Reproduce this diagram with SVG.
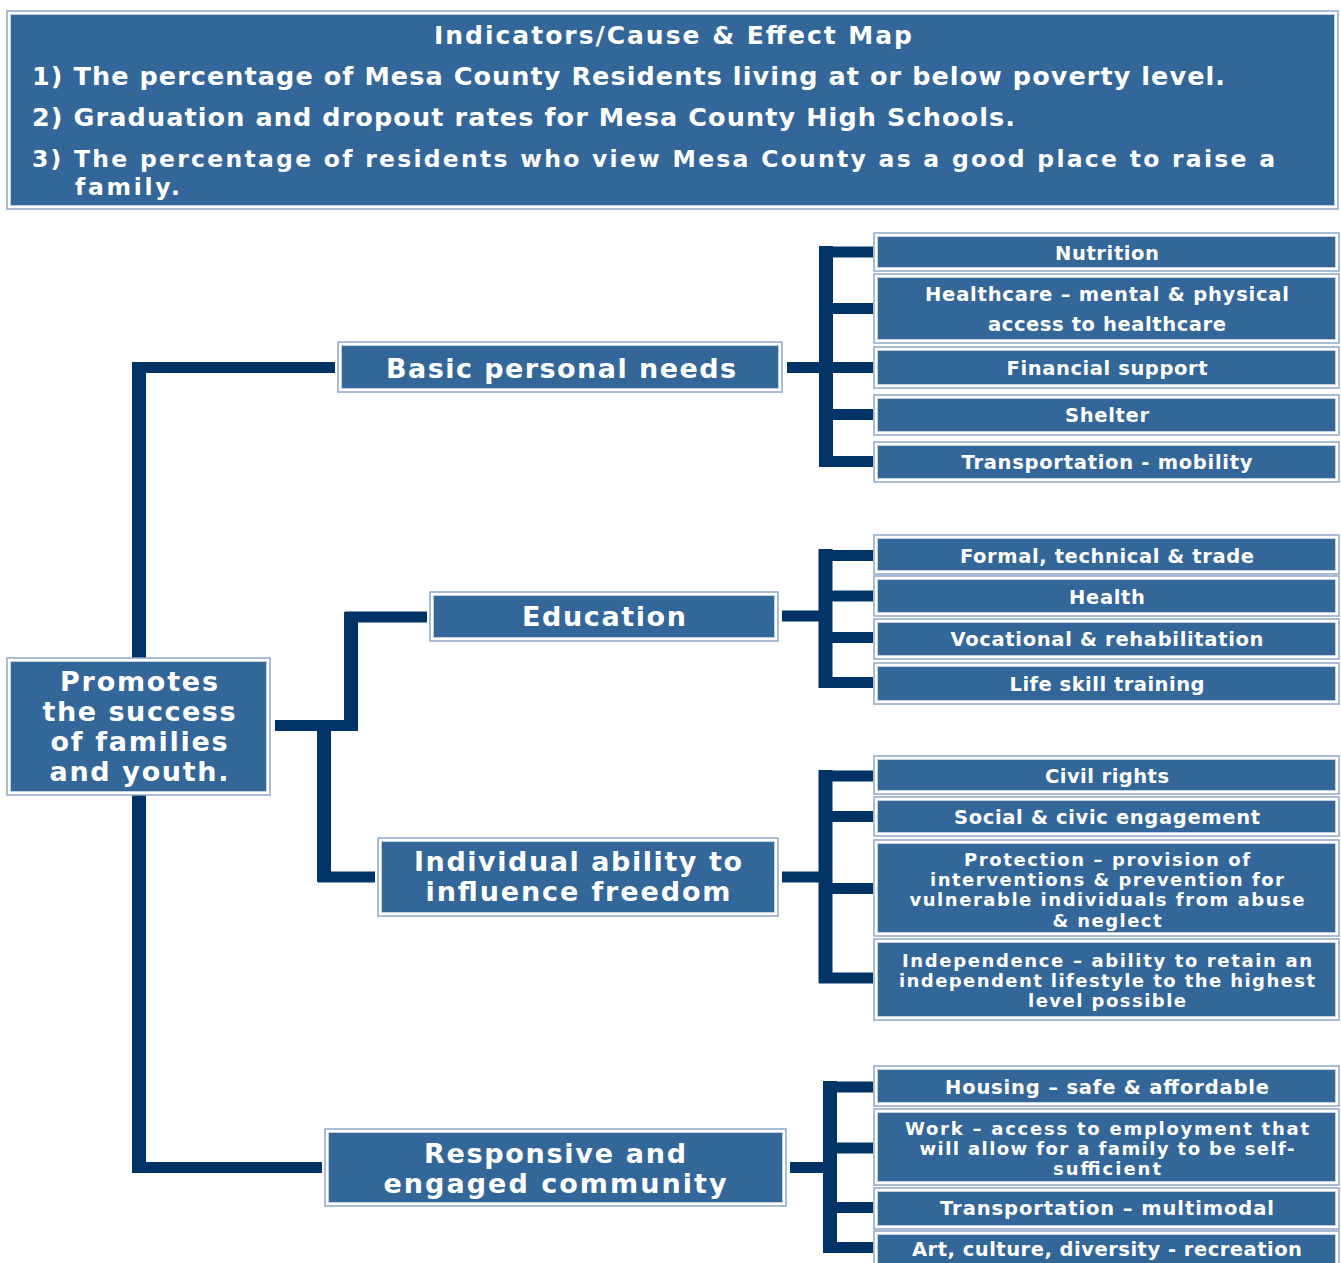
<svg xmlns="http://www.w3.org/2000/svg" width="1341" height="1263" viewBox="0 0 1341 1263">
  <style>
    .frame { fill: #ffffff; stroke: #8ea7c7; stroke-width: 1.5; }
    .fill { fill: #336699; stroke: #c3d0e1; stroke-width: 1; }
    .t { fill: #ffffff; font-family: "DejaVu Sans", Verdana, "Liberation Sans", sans-serif; font-weight: bold; text-anchor: middle; }
    .hd { font-size: 25px; }
    .hl { font-size: 25.5px; text-anchor: start; }
    .hl2 { font-size: 23.5px; text-anchor: start; }
    .big { font-size: 27px; }
    .sm { font-size: 19.5px; }
    .dense { font-size: 18px; }
    .h { stroke: #003366; stroke-width: 11; fill: none; stroke-linecap: butt; }
    .v { stroke: #003366; stroke-width: 14; fill: none; stroke-linecap: butt; }
  </style>
  <rect width="1341" height="1263" fill="#ffffff"/>

  <!-- connectors -->
  <g id="connectors">
    <!-- root to first level -->
    <path class="v" d="M139,658 V362"/>
    <path class="h" d="M132,367.5 H335"/>
    <path class="v" d="M139,795 V1173"/>
    <path class="h" d="M132,1167.5 H322"/>
    <path class="h" d="M275,725.5 H357"/>
    <path class="v" d="M351,731 V612"/>
    <path class="h" d="M345,617 H427"/>
    <path class="v" d="M324,720 V882"/>
    <path class="h" d="M318,877 H375"/>

    <!-- Basic personal needs -->
    <path class="h" d="M787,367.5 H826"/>
    <path class="v" d="M826,246 V467"/>
    <path class="h" d="M819,252 H873"/>
    <path class="h" d="M819,308.5 H873"/>
    <path class="h" d="M819,367.5 H873"/>
    <path class="h" d="M819,414.5 H873"/>
    <path class="h" d="M819,461.5 H873"/>

    <!-- Education -->
    <path class="h" d="M782,616 H826"/>
    <path class="v" d="M825.5,549 V688"/>
    <path class="h" d="M819,555.5 H873"/>
    <path class="h" d="M819,596 H873"/>
    <path class="h" d="M819,637.5 H873"/>
    <path class="h" d="M819,682.5 H873"/>

    <!-- Individual ability -->
    <path class="h" d="M782,877 H826"/>
    <path class="v" d="M825.5,770 V983"/>
    <path class="h" d="M819,776 H873"/>
    <path class="h" d="M819,816.5 H873"/>
    <path class="h" d="M819,888.5 H873"/>
    <path class="h" d="M819,978 H873"/>

    <!-- Responsive community -->
    <path class="h" d="M790,1167.5 H830"/>
    <path class="v" d="M830,1081 V1253"/>
    <path class="h" d="M823,1087 H873"/>
    <path class="h" d="M823,1148 H873"/>
    <path class="h" d="M823,1207.5 H873"/>
    <path class="h" d="M823,1247.5 H873"/>
  </g>

  <!-- header -->
  <g id="indicators">
    <rect class="frame" x="7" y="11" width="1331" height="198"/>
    <rect class="fill" x="10.5" y="14.5" width="1324" height="191"/>
    <text class="t hd" x="673" y="44" textLength="478">Indicators/Cause &amp; Effect Map</text>
    <text class="t hl" x="32" y="85" textLength="1193">1) The percentage of Mesa County Residents living at or below poverty level.</text>
    <text class="t hl" x="32" y="126" textLength="983">2) Graduation and dropout rates for Mesa County High Schools.</text>
    <text class="t hl2" x="32" y="167" textLength="1243">3) The percentage of residents who view Mesa County as a good place to raise a</text>
    <text class="t hl2" x="75" y="195" textLength="105">family.</text>
  </g>

  <!-- root -->
  <g id="root">
    <rect class="frame" x="7" y="658" width="263" height="137"/>
    <rect class="fill" x="10.5" y="661.5" width="256" height="130"/>
    <text class="t big" x="139" y="691" textLength="158">Promotes</text>
    <text class="t big" x="139" y="721" textLength="193">the success</text>
    <text class="t big" x="139" y="751" textLength="177">of families</text>
    <text class="t big" x="139" y="781" textLength="179">and youth.</text>
  </g>

  <!-- first level -->
  <g id="basic-needs">
    <rect class="frame" x="338" y="342" width="444" height="50"/>
    <rect class="fill" x="341.5" y="345.5" width="437" height="43"/>
    <text class="t big" x="561" y="378" textLength="350">Basic personal needs</text>
  </g>
  <g id="education">
    <rect class="frame" x="430" y="592" width="348" height="49"/>
    <rect class="fill" x="433.5" y="595.5" width="341" height="42"/>
    <text class="t big" x="604" y="626" textLength="164">Education</text>
  </g>
  <g id="individual-ability">
    <rect class="frame" x="378" y="838" width="400" height="78"/>
    <rect class="fill" x="381.5" y="841.5" width="393" height="71"/>
    <text class="t big" x="578" y="871" textLength="328">Individual ability to</text>
    <text class="t big" x="578" y="901" textLength="305">influence freedom</text>
  </g>
  <g id="responsive-community">
    <rect class="frame" x="325" y="1129" width="461" height="77"/>
    <rect class="fill" x="328.5" y="1132.5" width="454" height="70"/>
    <text class="t big" x="555" y="1163" textLength="262">Responsive and</text>
    <text class="t big" x="555" y="1193" textLength="343">engaged community</text>
  </g>

  <!-- Basic personal needs items -->
  <g id="nutrition">
    <rect class="frame" x="874" y="233" width="465" height="38"/>
    <rect class="fill" x="877.5" y="236.5" width="458" height="31"/>
    <text class="t sm" x="1107" y="260" textLength="104">Nutrition</text>
  </g>
  <g id="healthcare">
    <rect class="frame" x="874" y="274" width="465" height="69"/>
    <rect class="fill" x="877.5" y="277.5" width="458" height="62"/>
    <text class="t sm" x="1107" y="301" textLength="364">Healthcare – mental &amp; physical</text>
    <text class="t sm" x="1107" y="331" textLength="238">access to healthcare</text>
  </g>
  <g id="financial-support">
    <rect class="frame" x="874" y="347" width="465" height="41"/>
    <rect class="fill" x="877.5" y="350.5" width="458" height="34"/>
    <text class="t sm" x="1107" y="375" textLength="201">Financial support</text>
  </g>
  <g id="shelter">
    <rect class="frame" x="874" y="395" width="465" height="40"/>
    <rect class="fill" x="877.5" y="398.5" width="458" height="33"/>
    <text class="t sm" x="1107" y="422" textLength="84">Shelter</text>
  </g>
  <g id="transportation-mobility">
    <rect class="frame" x="874" y="442" width="465" height="40"/>
    <rect class="fill" x="877.5" y="445.5" width="458" height="33"/>
    <text class="t sm" x="1107" y="469" textLength="291">Transportation - mobility</text>
  </g>

  <!-- Education items -->
  <g id="formal-technical">
    <rect class="frame" x="874" y="535" width="465" height="39"/>
    <rect class="fill" x="877.5" y="538.5" width="458" height="32"/>
    <text class="t sm" x="1107" y="563" textLength="294">Formal, technical &amp; trade</text>
  </g>
  <g id="health">
    <rect class="frame" x="874" y="576" width="465" height="40"/>
    <rect class="fill" x="877.5" y="579.5" width="458" height="33"/>
    <text class="t sm" x="1107" y="604" textLength="76">Health</text>
  </g>
  <g id="vocational">
    <rect class="frame" x="874" y="619" width="465" height="40"/>
    <rect class="fill" x="877.5" y="622.5" width="458" height="33"/>
    <text class="t sm" x="1107" y="646" textLength="313">Vocational &amp; rehabilitation</text>
  </g>
  <g id="life-skill">
    <rect class="frame" x="874" y="663" width="465" height="41"/>
    <rect class="fill" x="877.5" y="666.5" width="458" height="34"/>
    <text class="t sm" x="1107" y="691" textLength="195">Life skill training</text>
  </g>

  <!-- Individual ability items -->
  <g id="civil-rights">
    <rect class="frame" x="874" y="756" width="465" height="38"/>
    <rect class="fill" x="877.5" y="759.5" width="458" height="31"/>
    <text class="t sm" x="1107" y="783" textLength="124">Civil rights</text>
  </g>
  <g id="social-civic">
    <rect class="frame" x="874" y="797" width="465" height="39"/>
    <rect class="fill" x="877.5" y="800.5" width="458" height="32"/>
    <text class="t sm" x="1107" y="824" textLength="306">Social &amp; civic engagement</text>
  </g>
  <g id="protection">
    <rect class="frame" x="874" y="840" width="465" height="96"/>
    <rect class="fill" x="877.5" y="843.5" width="458" height="89"/>
    <text class="t dense" x="1107" y="866" textLength="286">Protection – provision of</text>
    <text class="t dense" x="1107" y="886" textLength="354">interventions &amp; prevention for</text>
    <text class="t dense" x="1107" y="906" textLength="395">vulnerable individuals from abuse</text>
    <text class="t dense" x="1107" y="927" textLength="109">&amp; neglect</text>
  </g>
  <g id="independence">
    <rect class="frame" x="874" y="939" width="465" height="81"/>
    <rect class="fill" x="877.5" y="942.5" width="458" height="74"/>
    <text class="t dense" x="1107" y="967" textLength="410">Independence – ability to retain an</text>
    <text class="t dense" x="1107" y="987" textLength="416">independent lifestyle to the highest</text>
    <text class="t dense" x="1107" y="1007" textLength="158">level possible</text>
  </g>

  <!-- Responsive community items -->
  <g id="housing">
    <rect class="frame" x="874" y="1066" width="465" height="40"/>
    <rect class="fill" x="877.5" y="1069.5" width="458" height="33"/>
    <text class="t sm" x="1107" y="1094" textLength="324">Housing – safe &amp; affordable</text>
  </g>
  <g id="work">
    <rect class="frame" x="874" y="1109" width="465" height="76"/>
    <rect class="fill" x="877.5" y="1112.5" width="458" height="69"/>
    <text class="t dense" x="1107" y="1135" textLength="404">Work – access to employment that</text>
    <text class="t dense" x="1107" y="1155" textLength="375">will allow for a family to be self-</text>
    <text class="t dense" x="1107" y="1175" textLength="108">sufficient</text>
  </g>
  <g id="transportation-multimodal">
    <rect class="frame" x="874" y="1188" width="465" height="41"/>
    <rect class="fill" x="877.5" y="1191.5" width="458" height="34"/>
    <text class="t sm" x="1107" y="1215" textLength="334">Transportation – multimodal</text>
  </g>
  <g id="art-culture">
    <rect class="frame" x="874" y="1231" width="465" height="42"/>
    <rect class="fill" x="877.5" y="1234.5" width="458" height="35"/>
    <text class="t sm" x="1107" y="1256" textLength="390">Art, culture, diversity - recreation</text>
  </g>
</svg>
